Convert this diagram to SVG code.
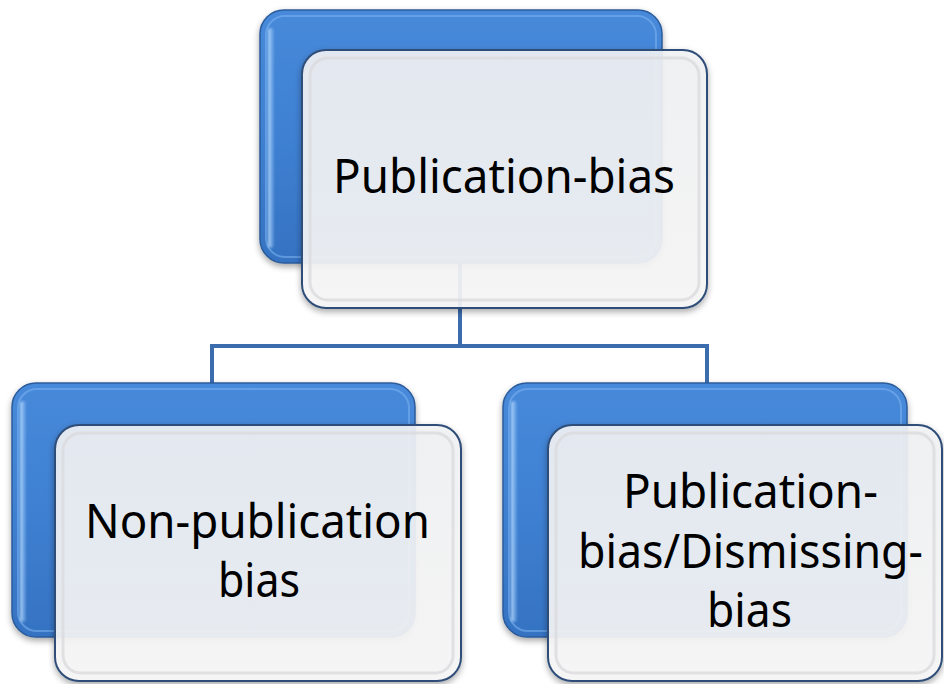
<svg xmlns="http://www.w3.org/2000/svg" width="944" height="684" viewBox="0 0 944 684">
  <defs>
    <linearGradient id="blueFill" x1="0" y1="0" x2="0" y2="1">
      <stop offset="0" stop-color="#4789DA"/>
      <stop offset="0.5" stop-color="#3F80D2"/>
      <stop offset="1" stop-color="#3572C2"/>
    </linearGradient>
    <linearGradient id="blueEdge" x1="0" y1="0" x2="1" y2="0">
      <stop offset="0" stop-color="#BFE0FF" stop-opacity="0.95"/>
      <stop offset="1" stop-color="#7AB2EE" stop-opacity="0.3"/>
    </linearGradient>
    <linearGradient id="cardFill" x1="0" y1="0" x2="0" y2="1">
      <stop offset="0" stop-color="#F2F3F5"/>
      <stop offset="1" stop-color="#F8F8F8"/>
    </linearGradient>
    <filter id="shadow" x="-10%" y="-10%" width="120%" height="125%">
      <feDropShadow dx="0" dy="3" stdDeviation="3" flood-color="#000" flood-opacity="0.35"/>
    </filter>
    <filter id="soft" x="-10%" y="-10%" width="120%" height="120%">
      <feGaussianBlur stdDeviation="1"/>
    </filter>
  </defs>
  <style>
    .back { fill: url(#blueFill); stroke: #2B5C9C; stroke-width: 1.5; }
    .back-rim { fill: none; stroke: #7DB4F0; stroke-width: 2; opacity: 0.55; }
    .back-edge { fill: url(#blueEdge); }
    .card { fill: url(#cardFill); fill-opacity: 0.9; stroke: #2E4D78; stroke-width: 2; }
    .card-rim { fill: none; stroke: #D9DADC; stroke-width: 3; opacity: 0.75; }
    .label { font-family: "Noto Sans", "Open Sans", "Liberation Sans", sans-serif; font-size: 47px; fill: #000; }
    .link { fill: none; stroke: #3A6CAE; stroke-width: 4; }
  </style>
  <rect width="944" height="684" fill="#FFFFFF"/>

  <!-- tree connectors -->
  <g id="connectors">
    <path class="link" d="M460,262 V346 M212,346 H707 M212,344 V384 M707,344 V384"/>
  </g>

  <!-- root node -->
  <g id="node-publication-bias">
    <rect class="back" x="260" y="10" width="402" height="253" rx="24" filter="url(#shadow)"/>
    <rect class="back-rim" x="266" y="16" width="390" height="241" rx="19"/>
    <rect class="back-edge" x="268" y="28" width="6" height="220" rx="3" filter="url(#soft)"/>
    <rect class="card" x="302" y="50" width="405" height="258" rx="24" filter="url(#shadow)"/>
    <rect class="card-rim" x="310" y="58" width="389" height="242" rx="18"/>
    <text class="label" x="333" y="193" textLength="342" lengthAdjust="spacingAndGlyphs">Publication-bias</text>
  </g>

  <!-- left child -->
  <g id="node-non-publication-bias">
    <rect class="back" x="12" y="383" width="403" height="254" rx="24" filter="url(#shadow)"/>
    <rect class="back-rim" x="18" y="389" width="391" height="242" rx="19"/>
    <rect class="back-edge" x="20" y="401" width="6" height="221" rx="3" filter="url(#soft)"/>
    <rect class="card" x="55" y="425" width="406" height="256" rx="24" filter="url(#shadow)"/>
    <rect class="card-rim" x="63" y="433" width="390" height="240" rx="18"/>
    <text class="label" x="85" y="538" textLength="345" lengthAdjust="spacingAndGlyphs">Non-publication</text>
    <text class="label" x="218" y="597" textLength="82" lengthAdjust="spacingAndGlyphs">bias</text>
  </g>

  <!-- right child -->
  <g id="node-dismissing-bias">
    <rect class="back" x="503" y="383" width="404" height="254" rx="24" filter="url(#shadow)"/>
    <rect class="back-rim" x="509" y="389" width="392" height="242" rx="19"/>
    <rect class="back-edge" x="511" y="401" width="6" height="221" rx="3" filter="url(#soft)"/>
    <rect class="card" x="548" y="425" width="394" height="256" rx="24" filter="url(#shadow)"/>
    <rect class="card-rim" x="556" y="433" width="378" height="240" rx="18"/>
    <text class="label" x="623" y="508" textLength="255" lengthAdjust="spacingAndGlyphs">Publication-</text>
    <text class="label" x="578" y="568" textLength="345" lengthAdjust="spacingAndGlyphs">bias/Dismissing-</text>
    <text class="label" x="707" y="627" textLength="85" lengthAdjust="spacingAndGlyphs">bias</text>
  </g>
</svg>
